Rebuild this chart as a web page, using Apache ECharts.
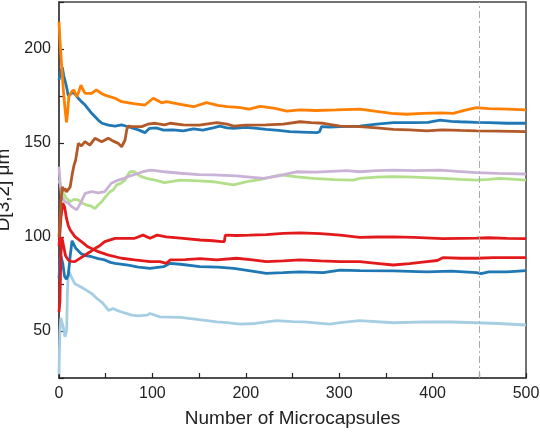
<!DOCTYPE html>
<html>
<head>
<meta charset="utf-8">
<script src="https://cdn.jsdelivr.net/npm/echarts@6/dist/echarts.min.js"></script>
<style>html,body{margin:0;padding:0;background:#fff}#c{width:540px;height:434px}</style>
</head>
<body>
<div id="c"></div>
<script>
const xTicks = [0, 100, 200, 300, 400, 500];
const yTicks = [50, 100, 150, 200];
const xName = 'Number of Microcapsules';
const yName = 'D[3,2] μm';
const refLineX = 450;

const orange = [[0,214.5],[1,205],[3,190],[5,176],[6.5,168],[8,161],[9,165],[10.5,174.5],[13.5,177.3],[16,178.2],[19,174.6],[21,177],[23.5,180.8],[26,178],[28,176.4],[35,176.4],[40,178.2],[45,176.5],[49,175.5],[60,173.8],[67,172],[80,171],[92,170.2],[101,173.8],[110,171.4],[115,172],[130,170.6],[144,169.3],[158,171.5],[170,170],[180,169.3],[192,169],[204,168],[215,169.5],[230,168.5],[244,167],[258,167.6],[275,167.3],[297,167.6],[322,168],[340,166.8],[356,165.8],[372,165.3],[390,165.8],[410,166],[422,165.8],[435,167.5],[447,168.8],[460,168.3],[480,168],[500,167.6]];
const blueUpper = [[0,183.5],[2,188],[3.5,190.3],[5,186],[8,180],[10,175],[12,176],[15,177],[18,175.5],[20.6,173.8],[24,172],[28,170.2],[35,165.8],[42,162.2],[46,160.5],[53,159.5],[60,159],[67,159.6],[75,158.5],[85,157],[92,155.5],[97,157.8],[104,158],[112,156.9],[122,157],[133,156.5],[144,157.5],[154,156.9],[165,158],[172,159],[180,158],[187,157.8],[200,158.3],[212,157.8],[222,157.3],[235,156.7],[247,156],[260,155.8],[276,155.5],[279,156],[281,158.7],[290,158.5],[301,158.7],[322,159],[340,160],[358,160.8],[380,160.8],[395,161],[408,162.2],[420,161.5],[429,161.3],[447,161],[460,160.8],[480,160.5],[500,160.5]];
const brown = [[0,100],[1,108],[2,118],[3.5,126.7],[5,124.5],[6.4,125.9],[8,124],[9.3,125],[12,126.7],[14,133],[16,138],[17.8,140.9],[20.7,149.8],[24,148.5],[27.8,150.7],[33,148.9],[38.5,152.5],[45.7,150.7],[52.8,152.5],[58,151],[63.5,149.8],[67,148],[70.7,151.6],[72.5,156.9],[74,159],[78,158.7],[88.5,158.7],[95,160],[103,160.5],[113,159.6],[119,160.5],[133,159.6],[150,159.5],[169,160.8],[180,160],[187,159],[200,159.5],[222,159.6],[240,160],[258,161.3],[270,160.8],[283,160.5],[301,159],[322,158.7],[340,158],[358,157.3],[375,157],[394,156.4],[410,157],[430,156.7],[447,156.5],[470,156.3],[500,156]];
const purple = [[0,137.4],[1,130],[3,121.4],[6,119],[10,117.9],[14,116],[19,114.4],[23,118],[28,123.2],[35,124.1],[42,123.5],[49,124.1],[56,128.6],[63.5,130.3],[69,131],[74,132.1],[85,133.9],[92,135],[99,135.6],[113,134.7],[130,133.9],[150,133.2],[165,133],[190,132.5],[219,131.2],[235,132.5],[254,134.7],[275,134.5],[308,135.3],[322,134.7],[340,135.3],[358,135.6],[380,135.3],[408,135.6],[430,134.8],[447,134.2],[470,133.8],[500,133.5]];
const green = [[0,130.3],[2,127],[4.6,123.2],[8,120.6],[12,118.8],[16,120],[20.6,119.7],[25,118],[29.6,117],[34,116.5],[38.5,115.2],[42,117],[45.7,118.8],[50,121.5],[54.6,124.1],[58,125],[61.8,127.7],[66,128.5],[70.7,130.3],[73,132.5],[76,134.7],[81,134.7],[85,133],[88.5,132.1],[95,131],[103,130.3],[113,128.9],[130,130.3],[150,129.8],[165,129.4],[180,128.2],[187,127.7],[201,129.4],[215,130.5],[237,133],[255,132],[272,131.2],[295,130.5],[315,130.3],[322,131.2],[340,131.8],[358,132.1],[380,131.8],[411,131.2],[430,130.6],[447,130.3],[460,130.6],[472,131.2],[485,130.8],[500,130.3]];
const redUpper = [[0,60],[1,66],[2,90],[3,100],[5,95],[7,90],[10,87.8],[13,87],[17,86.9],[22,88.5],[28,90.4],[33,92],[38.5,93.9],[44,95.5],[49,97.5],[55,98.5],[60,99.3],[70.7,99.3],[81,99.3],[90,101],[97.5,99.3],[105,101],[115,100.1],[133,99.3],[151,98.4],[165,98],[174,97.5],[177,97.6],[178,101],[190,100.8],[204,101],[222,101.3],[240,101.9],[258,102.2],[280,101.8],[301,101],[322,99.8],[340,100],[358,100.1],[380,99.8],[411,99.1],[430,99.3],[447,99.4],[460,99.6],[480,99.3],[500,99.1]];
const redLower = [[0,95],[2,110],[4,118],[6,116],[8,110],[10,106],[12,103.7],[17,100.2],[24,97.5],[31,94.8],[42,92.2],[53,90.4],[67,88.7],[81,87.8],[97.5,86.9],[108,86.9],[115,86],[119,87.8],[135,88],[151,88.5],[153,89.2],[169,87.8],[190,88.7],[205,88],[222,86.9],[240,87.3],[258,87.8],[280,87.3],[301,86.9],[322,86.9],[340,86],[358,85.1],[375,85.8],[394,86.9],[405,87.5],[411,89],[430,88.7],[447,88.7],[465,89],[480,89],[500,89]];
const blueLower = [[0,78],[1,88],[2,90],[4,86],[6,79],[8,77.5],[10,80],[12,90],[14,98],[16,96],[18,94],[24,91],[30,90],[35,89.5],[42,88.5],[49,87.8],[55,86.5],[60,86],[74,85],[85,84],[97.5,83.3],[112,84.2],[119,86],[130,85.5],[151,84.2],[170,84],[187,83.3],[205,82],[222,80.7],[240,81],[258,81.5],[283,81],[301,82.4],[322,82.1],[358,82],[394,81.5],[420,81.8],[447,81],[452,80.5],[460,81.5],[480,81.5],[500,82.1]];
const lightBlue = [[0,27],[0.5,40],[1,50],[2,57],[3,55],[4.6,52],[6.4,46.8],[8.2,50.3],[9,70],[10,82.2],[11.8,80.4],[14,78],[17,75.1],[24,73.3],[30,71.5],[35,69.9],[40,67.5],[45.7,65.4],[50,63],[53,61],[58,61.9],[62,61],[67,60.1],[78,58.4],[85,58],[94,58.4],[97.5,59.3],[108,57.5],[130,57.2],[150,56],[169,54.9],[180,54.5],[194,53.7],[210,54],[233,55.5],[250,55],[262,54.9],[290,53.7],[301,54.4],[322,55.5],[358,54.4],[394,54.9],[420,54.8],[447,54.4],[470,54],[500,53.2]];

const seriesDefs = [
  {data: lightBlue, color: '#A6CEE3'},
  {data: blueLower, color: '#1F78B4'},
  {data: redLower, color: '#E31A1C'},
  {data: redUpper, color: '#E31A1C'},
  {data: green, color: '#B2DF8A'},
  {data: purple, color: '#CAB2D6'},
  {data: blueUpper, color: '#1F78B4'},
  {data: brown, color: '#B15928'},
  {data: orange, color: '#FF7F00'}
];

const font = 'Liberation Sans, Arial, sans-serif';
const chart = echarts.init(document.getElementById('c'), null, {renderer: 'canvas'});
const series = seriesDefs.map((s, i) => ({
  type: 'line',
  data: s.data,
  showSymbol: false,
  symbol: 'none',
  silent: true,
  animation: false,
  lineStyle: {color: s.color, width: 2.8},
  itemStyle: {color: s.color},
  markLine: i === 0 ? {
    silent: true, symbol: 'none', label: {show: false},
    lineStyle: {color: '#aaaaaa', width: 1, type: [7, 3, 2, 3]},
    data: [{xAxis: refLineX}]
  } : undefined
}));

chart.setOption({
  animation: false,
  backgroundColor: '#fff',
  grid: {left: 59, right: 14, top: 2, bottom: 56, show: true, borderColor: '#444', borderWidth: 1.5,
    containLabel: false, outerBoundsMode: 'none'},
  xAxis: {
    type: 'value', min: 0, max: 500, interval: 50,
    name: xName, nameLocation: 'middle', nameGap: 31,
    nameTextStyle: {fontFamily: font, fontSize: 19, color: '#222'},
    axisLine: {show: true, lineStyle: {color: '#444', width: 1.5}},
    axisTick: {show: true, inside: true, length: 5, lineStyle: {color: '#222', width: 1.2}},
    axisLabel: {fontFamily: font, fontSize: 16, color: '#222', margin: 8,
      formatter: v => xTicks.includes(v) ? String(v) : ''},
    splitLine: {show: false}
  },
  yAxis: {
    type: 'value', min: 25, max: 225, interval: 25,
    name: yName, nameLocation: 'middle', nameGap: 38, nameRotate: 90,
    nameTextStyle: {fontFamily: font, fontSize: 19, color: '#222'},
    axisLine: {show: true, lineStyle: {color: '#444', width: 1.5}},
    axisTick: {show: true, inside: true, length: 5, lineStyle: {color: '#222', width: 1.2}},
    axisLabel: {fontFamily: font, fontSize: 16, color: '#222', margin: 8,
      formatter: v => yTicks.includes(v) ? String(v) : ''},
    splitLine: {show: false}
  },
  series: series
});
</script>
</body>
</html>
